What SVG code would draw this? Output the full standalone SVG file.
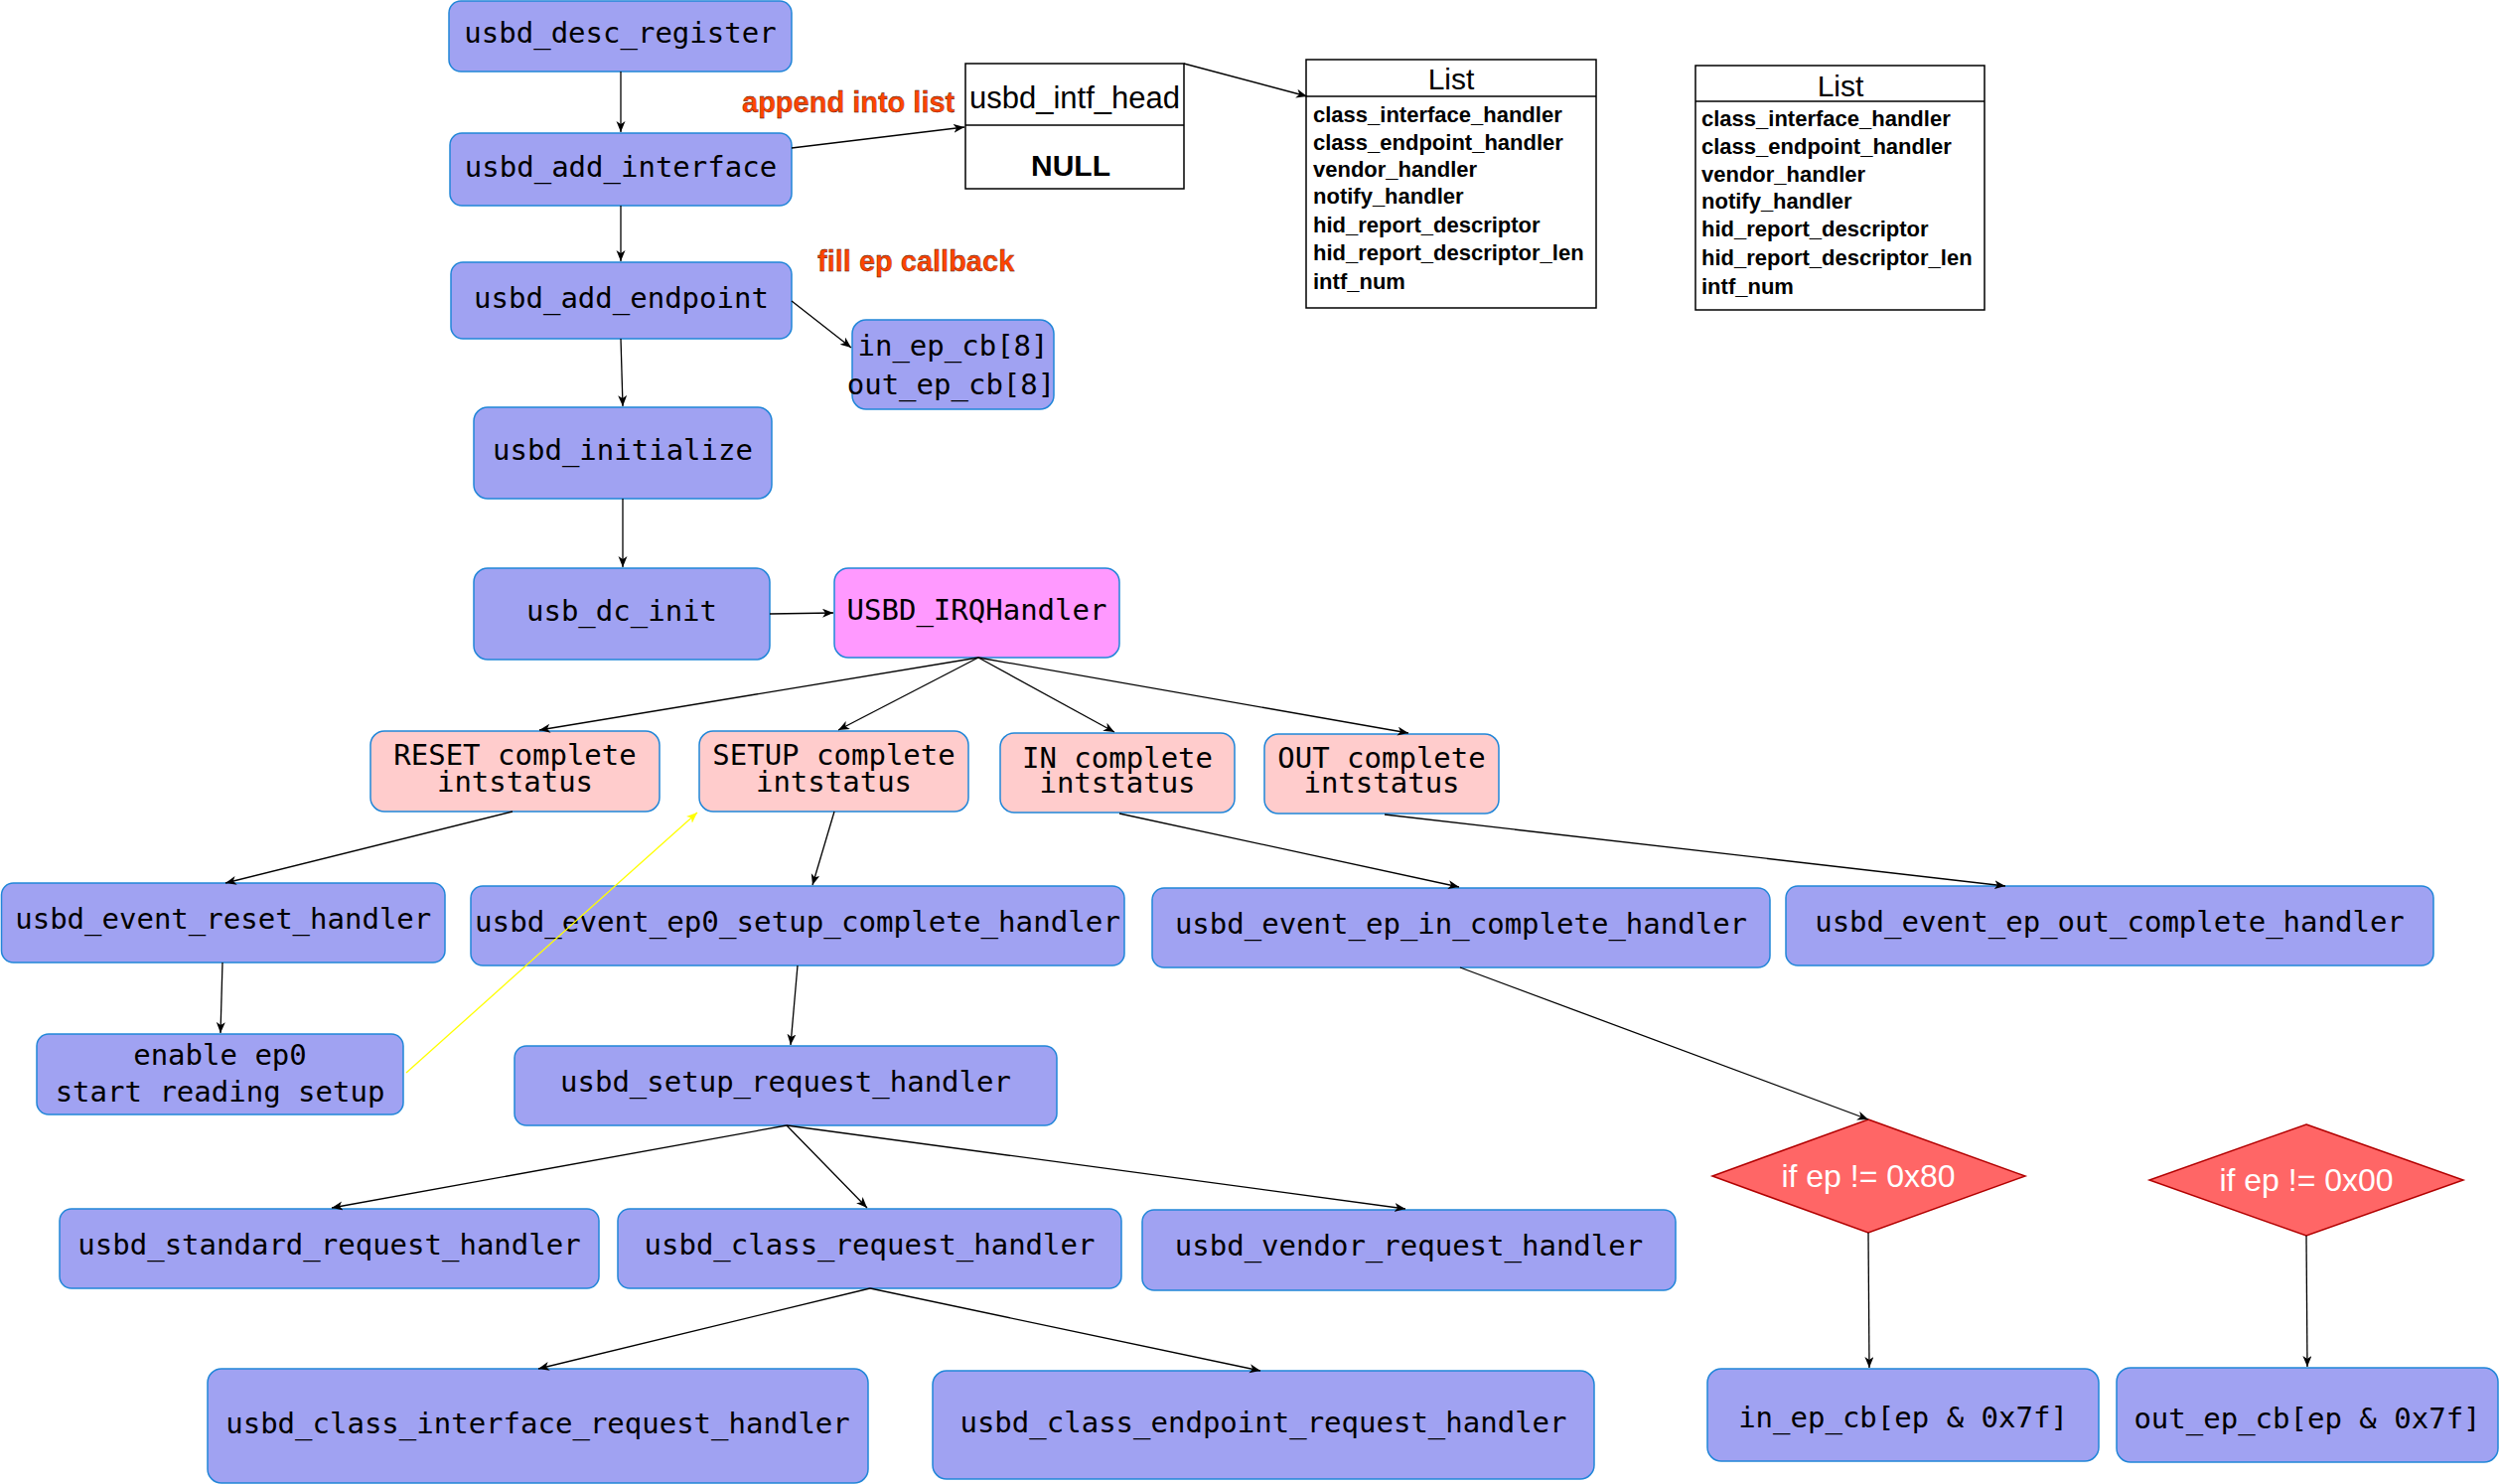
<svg xmlns="http://www.w3.org/2000/svg" width="2517" height="1494" viewBox="0 0 2517 1494">
<defs>
<style>
.n{fill:#A0A2F2;stroke:#2186D8;stroke-width:1.5}
.p{fill:#FFCCCC;stroke:#2186D8;stroke-width:1.5}
.irq{fill:#FF99FF;stroke:#2186D8;stroke-width:1.5}
.d{fill:#FF6666;stroke:#B20000;stroke-width:1.5}
.box{fill:#FFFFFF;stroke:#000000;stroke-width:1.5}
.t{font-family:"DejaVu Sans Mono",monospace;font-size:29px;fill:#000;text-anchor:middle}
.a{font-family:"Liberation Sans",Arial,sans-serif;fill:#000}
.red{font-family:"Liberation Sans",Arial,sans-serif;font-size:29px;font-weight:bold;fill:#FF4500;stroke:#2A0800;stroke-width:0.3}
.li{font-family:"Liberation Sans",Arial,sans-serif;font-size:22px;font-weight:bold;fill:#000}
.dt{font-family:"Liberation Sans",Arial,sans-serif;font-size:32px;fill:#FFFFFF;text-anchor:middle}
.c{stroke:#000;stroke-width:1.3;fill:none;marker-end:url(#ah)}
.y{stroke:#FFFF00;stroke-width:1.3;fill:none;marker-end:url(#ahy)}
</style>
<marker id="ah" markerUnits="userSpaceOnUse" markerWidth="12" markerHeight="10" refX="11" refY="4.5" orient="auto"><path d="M0,0 L11,4.5 L0,9 L3,4.5 z" fill="#000"/></marker>
<marker id="ahy" markerUnits="userSpaceOnUse" markerWidth="12" markerHeight="10" refX="11" refY="4.5" orient="auto"><path d="M0,0 L11,4.5 L0,9 L3,4.5 z" fill="#FFFF00"/></marker>
</defs>
<rect width="2517" height="1494" fill="#FFFFFF"/>

<g id="label-append"><text class="red" x="747" y="113">append into list</text></g>
<g id="label-fill"><text class="red" x="823" y="273">fill ep callback</text></g>

<g id="usbd_desc_register"><rect class="n" x="452" y="1" width="345" height="71" rx="12"/><text class="t" x="624.5" y="43">usbd_desc_register</text></g>
<g id="usbd_add_interface"><rect class="n" x="453" y="134" width="344" height="73" rx="12"/><text class="t" x="625" y="178">usbd_add_interface</text></g>
<g id="usbd_add_endpoint"><rect class="n" x="454" y="264" width="343" height="77" rx="12"/><text class="t" x="625.5" y="310">usbd_add_endpoint</text></g>
<g id="usbd_initialize"><rect class="n" x="477" y="410" width="300" height="92" rx="14"/><text class="t" x="627" y="463">usbd_initialize</text></g>
<g id="usb_dc_init"><rect class="n" x="477" y="572" width="298" height="92" rx="14"/><text class="t" x="626" y="625">usb_dc_init</text></g>
<g id="USBD_IRQHandler"><rect class="irq" x="840" y="572" width="287" height="90" rx="14"/><text class="t" x="983.5" y="624">USBD_IRQHandler</text></g>

<g id="in_ep_cb8"><rect class="n" x="858" y="322" width="203" height="90" rx="14"/><text class="t" x="959.5" y="358">in_ep_cb[8]</text><text class="t" x="957.5" y="397">out_ep_cb[8]</text></g>

<g id="usbd_intf_head"><rect class="box" x="972" y="64" width="220" height="126"/><line x1="972" y1="126" x2="1192" y2="126" stroke="#000" stroke-width="1.5"/><text class="a" x="1082" y="109" font-size="31" text-anchor="middle">usbd_intf_head</text><text class="a" x="1078" y="177" font-size="30" font-weight="bold" text-anchor="middle">NULL</text></g>

<g id="list1"><rect class="box" x="1315" y="60" width="292" height="250"/><line x1="1315" y1="97" x2="1607" y2="97" stroke="#000" stroke-width="1.5"/><text class="a" x="1461" y="90" font-size="30" text-anchor="middle">List</text>
<text class="li" x="1322" y="123">class_interface_handler</text>
<text class="li" x="1322" y="151">class_endpoint_handler</text>
<text class="li" x="1322" y="178">vendor_handler</text>
<text class="li" x="1322" y="205">notify_handler</text>
<text class="li" x="1322" y="234">hid_report_descriptor</text>
<text class="li" x="1322" y="262">hid_report_descriptor_len</text>
<text class="li" x="1322" y="291">intf_num</text></g>

<g id="list2"><rect class="box" x="1707" y="66" width="291" height="246"/><line x1="1707" y1="102" x2="1998" y2="102" stroke="#000" stroke-width="1.5"/><text class="a" x="1853" y="97" font-size="30" text-anchor="middle">List</text>
<text class="li" x="1713" y="127">class_interface_handler</text>
<text class="li" x="1713" y="155">class_endpoint_handler</text>
<text class="li" x="1713" y="183">vendor_handler</text>
<text class="li" x="1713" y="210">notify_handler</text>
<text class="li" x="1713" y="238">hid_report_descriptor</text>
<text class="li" x="1713" y="267">hid_report_descriptor_len</text>
<text class="li" x="1713" y="296">intf_num</text></g>

<g id="reset_complete"><rect class="p" x="373" y="736" width="291" height="81" rx="14"/><text class="t" x="518.5" y="770">RESET complete</text><text class="t" x="518.5" y="797">intstatus</text></g>
<g id="setup_complete"><rect class="p" x="704" y="736" width="271" height="81" rx="14"/><text class="t" x="839.5" y="770">SETUP complete</text><text class="t" x="839.5" y="797">intstatus</text></g>
<g id="in_complete"><rect class="p" x="1007" y="738" width="236" height="80" rx="14"/><text class="t" x="1125" y="773">IN complete</text><text class="t" x="1125" y="798">intstatus</text></g>
<g id="out_complete"><rect class="p" x="1273" y="739" width="236" height="80" rx="14"/><text class="t" x="1391" y="773">OUT complete</text><text class="t" x="1391" y="798">intstatus</text></g>

<g id="usbd_event_reset_handler"><rect class="n" x="1.5" y="889" width="446.5" height="80" rx="12"/><text class="t" x="224.75" y="935">usbd_event_reset_handler</text></g>
<g id="usbd_event_ep0_setup_complete_handler"><rect class="n" x="474" y="892" width="658" height="80" rx="12"/><text class="t" x="803" y="938" textLength="650" lengthAdjust="spacingAndGlyphs">usbd_event_ep0_setup_complete_handler</text></g>
<g id="usbd_event_ep_in_complete_handler"><rect class="n" x="1160" y="894" width="622" height="80" rx="12"/><text class="t" x="1471" y="940">usbd_event_ep_in_complete_handler</text></g>
<g id="usbd_event_ep_out_complete_handler"><rect class="n" x="1798" y="892" width="652" height="80" rx="12"/><text class="t" x="2124" y="938">usbd_event_ep_out_complete_handler</text></g>

<g id="enable_ep0"><rect class="n" x="37" y="1041" width="369" height="81" rx="12"/><text class="t" x="221.5" y="1072">enable ep0</text><text class="t" x="221.5" y="1109">start reading setup</text></g>
<g id="usbd_setup_request_handler"><rect class="n" x="518" y="1053" width="546" height="80" rx="12"/><text class="t" x="791" y="1099">usbd_setup_request_handler</text></g>

<g id="usbd_standard_request_handler"><rect class="n" x="60" y="1217" width="543" height="80" rx="12"/><text class="t" x="331.5" y="1263">usbd_standard_request_handler</text></g>
<g id="usbd_class_request_handler"><rect class="n" x="622" y="1217" width="507" height="80" rx="12"/><text class="t" x="875.5" y="1263">usbd_class_request_handler</text></g>
<g id="usbd_vendor_request_handler"><rect class="n" x="1150" y="1218" width="537" height="81" rx="12"/><text class="t" x="1418.5" y="1264">usbd_vendor_request_handler</text></g>

<g id="usbd_class_interface_request_handler"><rect class="n" x="209" y="1378" width="665" height="115" rx="14"/><text class="t" x="541.5" y="1443">usbd_class_interface_request_handler</text></g>
<g id="usbd_class_endpoint_request_handler"><rect class="n" x="939" y="1380" width="666" height="109" rx="14"/><text class="t" x="1272" y="1442">usbd_class_endpoint_request_handler</text></g>

<g id="if_ep_ne_0x80"><polygon class="d" points="1881,1127 2039,1184 1881,1241 1724,1184"/><text class="dt" x="1881" y="1195">if ep != 0x80</text></g>
<g id="if_ep_ne_0x00"><polygon class="d" points="2322,1132 2480,1188 2322,1244 2164,1188"/><text class="dt" x="2322" y="1199">if ep != 0x00</text></g>

<g id="in_ep_cb_mask"><rect class="n" x="1719" y="1378" width="394" height="93" rx="14"/><text class="t" x="1916" y="1437">in_ep_cb[ep &amp; 0x7f]</text></g>
<g id="out_ep_cb_mask"><rect class="n" x="2131" y="1377" width="384" height="95" rx="14"/><text class="t" x="2323" y="1438">out_ep_cb[ep &amp; 0x7f]</text></g>

<g id="connectors">
<path class="c" d="M625,72 L625,133"/>
<path class="c" d="M625,207 L625,263"/>
<path class="c" d="M625,341 L627,409"/>
<path class="c" d="M627,502 L627,571"/>
<path class="c" d="M775,618 L839,617"/>
<path class="c" d="M797,149 L971,128"/>
<path class="c" d="M797,303 L857,350"/>
<path class="c" d="M1192,64 L1316,97"/>
<path class="c" d="M985,662 L543,735"/>
<path class="c" d="M985,662 L844,735"/>
<path class="c" d="M985,662 L1122,737"/>
<path class="c" d="M985,662 L1418,738"/>
<path class="c" d="M516,817 L227,889"/>
<path class="c" d="M840,817 L818,891"/>
<path class="c" d="M1127,819 L1469,893"/>
<path class="c" d="M1394,820 L2019,892"/>
<path class="c" d="M224,969 L222,1040"/>
<path class="c" d="M803,972 L796,1052"/>
<path class="c" d="M792,1133 L334,1216"/>
<path class="c" d="M792,1133 L873,1216"/>
<path class="c" d="M792,1133 L1415,1217"/>
<path class="c" d="M876,1297 L542,1378"/>
<path class="c" d="M876,1297 L1269,1380"/>
<path class="c" d="M1470,974 L1881,1127"/>
<path class="c" d="M1881,1241 L1882,1377"/>
<path class="c" d="M2322,1244 L2323,1376"/>
<path class="y" d="M409,1080 L702,818"/>
</g>
</svg>
